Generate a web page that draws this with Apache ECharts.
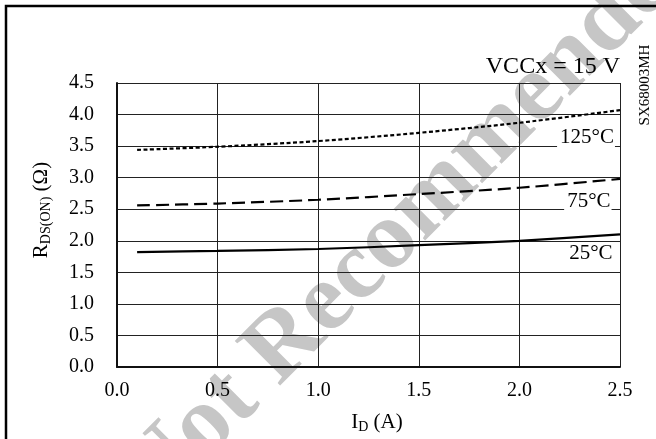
<!DOCTYPE html>
<html>
<head>
<meta charset="utf-8">
<script src="https://cdn.jsdelivr.net/npm/echarts@6/dist/echarts.min.js"></script>
<style>
  html, body { margin: 0; padding: 0; background: #fff; }
  #chart { width: 656px; height: 439px; }
</style>
</head>
<body>
<div id="chart"></div>
<script>
// Drain current I_D (A) and on-resistance R_DS(ON) (ohm) at three junction temperatures
const currentA = [0.1, 0.5, 1.0, 1.5, 2.0, 2.5];
const rds25 = [1.82, 1.84, 1.87, 1.93, 2.00, 2.10];
const rds75 = [2.56, 2.59, 2.65, 2.74, 2.84, 2.98];
const rds125 = [3.44, 3.49, 3.58, 3.71, 3.87, 4.07];
const tempLabels = ['25°C', '75°C', '125°C'];
const xTicks = { min: 0, max: 2.5, step: 0.5 };
const yTicks = { min: 0, max: 4.5, step: 0.5 };

const FONT = '"Liberation Serif", "Times New Roman", serif';
const pairs = (xs, ys) => xs.map((x, i) => [x, ys[i]]);

const chart = echarts.init(document.getElementById('chart'), null, { renderer: 'canvas' });

function curve(name, values, dash) {
  return {
    name: name,
    type: 'line',
    data: pairs(currentA, values),
    smooth: 0.3,
    showSymbol: false,
    symbol: 'none',
    z: 5,
    lineStyle: { color: '#000', width: 2.2, type: dash }
  };
}

chart.setOption({
  backgroundColor: '#fff',
  animation: false,
  grid: { left: 117, right: 36, top: 83, bottom: 72, containLabel: false },
  xAxis: {
    type: 'value',
    min: xTicks.min, max: xTicks.max, interval: xTicks.step,
    name: '{a|I}{b|D}{a| (A)}',
    nameLocation: 'middle',
    nameGap: 44,
    nameTextStyle: {
      padding: [0, 0, 0, 17],
      rich: {
        a: { fontFamily: FONT, fontSize: 21, color: '#000' },
        b: { fontFamily: FONT, fontSize: 14, color: '#000', padding: [9, 0, 0, 0] }
      }
    },
    axisLine: { show: true, lineStyle: { color: '#111', width: 2 } },
    axisTick: { show: false },
    axisLabel: {
      margin: 14, color: '#000', fontFamily: FONT, fontSize: 20,
      formatter: v => v.toFixed(1)
    },
    splitLine: { show: true, lineStyle: { color: '#222', width: 1 } }
  },
  yAxis: {
    type: 'value',
    min: yTicks.min, max: yTicks.max, interval: yTicks.step,
    name: '{a|R}{b|DS(ON)}{a| (Ω)}',
    nameLocation: 'middle',
    nameGap: 64,
    nameRotate: 90,
    nameTextStyle: {
      padding: [0, 0, 0, 30],
      rich: {
        a: { fontFamily: FONT, fontSize: 21, color: '#000' },
        b: { fontFamily: FONT, fontSize: 14, color: '#000', padding: [9, 0, 0, 0] }
      }
    },
    axisLine: { show: true, lineStyle: { color: '#111', width: 2 } },
    axisTick: { show: false },
    axisLabel: {
      margin: 23, color: '#000', fontFamily: FONT, fontSize: 20,
      formatter: v => v.toFixed(1)
    },
    splitLine: { show: true, lineStyle: { color: '#222', width: 1 } }
  },
  series: [
    curve(tempLabels[0], rds25, 'solid'),
    curve(tempLabels[1], rds75, [13, 6]),
    curve(tempLabels[2], rds125, [4, 2.5])
  ]
});

// Annotations anchored in data space (current, resistance)
const at = (x, y) => chart.convertToPixel({ gridIndex: 0 }, [x, y]);
const pLbl125 = at(2.475, 3.63);
const pLbl75 = at(2.458, 2.63);
const pLbl25 = at(2.468, 1.80);
const pCond = at(2.5, 4.76);

function tempText(p, text) {
  return {
    type: 'text', z: 10,
    x: p[0], y: p[1],
    style: {
      text: text, fill: '#000', font: '21px ' + FONT,
      align: 'right', verticalAlign: 'middle',
      backgroundColor: '#fff', padding: [0, 1, 0, 3]
    }
  };
}

chart.setOption({
  graphic: [
    // faint diagonal watermark
    {
      type: 'text', z: -5, silent: true,
      x: 416, y: 214, rotation: 45 * Math.PI / 180,
      style: {
        text: 'Not Recommended', fill: '#c6c6c6',
        font: 'bold 97px ' + FONT, align: 'center', verticalAlign: 'middle'
      }
    },
    // outer frame
    {
      type: 'rect', z: 20, silent: true,
      shape: { x: 6, y: 6, width: 720, height: 520 },
      style: { fill: null, stroke: '#000', lineWidth: 2.5 }
    },
    tempText(pLbl125, tempLabels[2]),
    tempText(pLbl75, tempLabels[1]),
    tempText(pLbl25, tempLabels[0]),
    {
      type: 'text', z: 10,
      x: pCond[0], y: pCond[1],
      style: {
        text: 'VCCx = 15 V', fill: '#000', font: '24px ' + FONT,
        align: 'right', verticalAlign: 'middle'
      }
    },
    {
      type: 'text', z: 10,
      x: 645, y: 85, rotation: Math.PI / 2,
      style: {
        text: 'SX68003MH', fill: '#000', font: '15px ' + FONT,
        align: 'center', verticalAlign: 'middle'
      }
    }
  ]
});
</script>
</body>
</html>
